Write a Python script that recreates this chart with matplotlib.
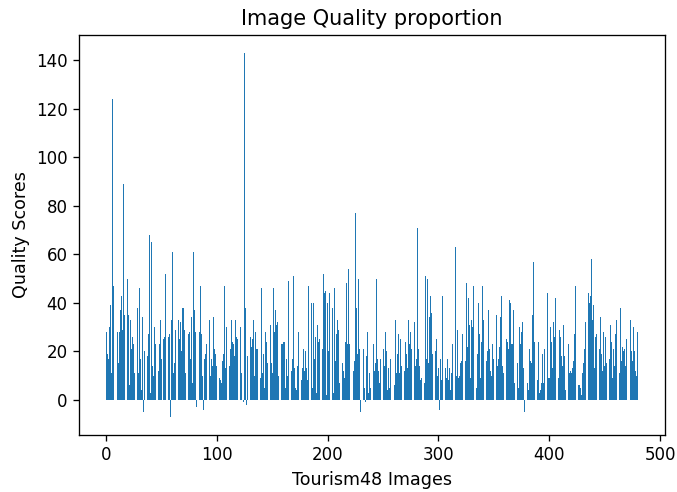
import matplotlib
matplotlib.use("Agg")
import matplotlib.pyplot as plt
import numpy as np

seg1 = [28, 19, 17, 30, 39, 11, 124, 47, 30, 25, 28, 15, 28, 37, 43, 29, 89, 35, 25, 50,
        35, 6, 33, 21, 26, 23, 11, 20, 38, 11, 46, 17, 4, 34, -5, 20, 43, 18, 27, 68,
        3, 65, 14, 10, 30, 23, 31, 12, 23, 33, 17, 0, 25, 26, 52, 63, 26, 27, -7]
seg2 = [33, 61, 11, 15, 29, 15, 33, 25, 32, 20, 38, 38, 29, 11, 14, 27, 28, 17, 34, 7,
        61, 37, 28, -3, 17, 28, 47, 27, 10, -4, 17, 19, 23, 62, 33, 10, 17, 14, 34, 21,
        19, 14, 8, 9, 8, 7, 16, 19, 47, 13, 30, 10, 14, 21, 33, 24, 23, 18, 33, 26, 25]
seg3 = [1, 30, 11, 0, -1, 143, 38, -2, 18, 12, 26, 22, 25, 33, 10, 28, 21, 21, 31, 9,
        46, 11, 19, 5, 28, 24, 15, 37, 31, 15, 11, 46, 28, 37, 31, 32, 10, 38, 23, 23,
        24, 24, 5, 17, 10, 49, 6, 12, 17, 51, 13, 5, 4, 14, 28, 31, 8, 13, 21, 12, 20, 13, 8]
seg4 = [47, 38, 40, 5, 40, 17, 26, 3, 31, 24, 25, 43, 21, 52, 44, 45, 2, 40, 20, 44,
        35, 38, 3, 46, 16, 27, 33, 29, 7, 12, 15, 12, 9, 24, 48, 23, 54, 23, 52, 9,
        12, 16, 77, 38, 19, 50, 21, -5, 8, 21, 5, -1, 18, 28, 3, 11, 5, 16, 23, 12, 15]
seg5 = [50, 17, 12, 7, 17, 47, 21, 14, 28, 20, 4, 13, 5, 17, 36, 27, 6, 33, 11, 19,
        27, 11, 25, 14, 11, 12, 24, 19, 13, 33, 23, 28, 21, 19, 32, 14, 17, 71, 21, 14,
        8, 9, 19, 7, 51, 17, 50, 15, 34, 43, 36, 19, 33, 20, 25, 10, 13, -4, 17, 8]
seg6 = [43, 25, 13, 9, 17, 8, 13, 4, 11, 23, 10, 63, 10, 29, 9, 10, 15, 16, 27, 20,
        16, 48, 22, 42, 31, 9, 33, 30, 47, 26, 5, 19, 40, 27, 9, 24, 47, 33, 24, 16,
        20, 37, 21, 12, 10, 23, 17, 16, 35, 14, 17, 22, 34, 43, 14, 11, 26, 25, 24, 21, 41, 40]
seg7 = [23, 23, 37, 7, 19, 15, 5, 30, 23, 28, 32, 13, -5, 24, 7, 4, 21, 16, 15, 35,
        57, 24, 16, 8, 24, 3, 4, 7, 19, 7, 21, 10, 44, 9, 9, 30, 24, 13, 32, 26,
        42, 12, 9, 29, 26, 18, 14, 31, 18, 4, 78, 23, 11, 12, 11, 13, 16, 27, 47, 26, 6]
seg8 = [6, 5, 2, 11, 15, 21, 32, 21, 44, 40, 43, 58, 33, 39, 13, 26, 27, 15, 21, 34,
        19, 12, 28, 14, 26, 15, 29, 17, 31, 24, 9, 21, 14, 27, 33, 10, 11, 38, 16, 22,
        20, 21, 14, 25, 25, 25, 33, 20, 16, 30, 20, 12, 10, 28]

scores = seg1 + seg2 + seg3 + seg4 + seg5 + seg6 + seg7 + seg8
images = list(range(len(scores)))

title = "Image Quality proportion"
xlabel = "Tourism48 Images"
ylabel = "Quality Scores"
xticks = [0, 100, 200, 300, 400, 500]
yticks = [0, 20, 40, 60, 80, 100, 120, 140]

plt.rcParams.update({
    "axes.linewidth": 0.95,
    "xtick.major.size": 4.1, "ytick.major.size": 4.1,
    "xtick.major.width": 0.95, "ytick.major.width": 0.95,
    "xtick.major.pad": 4.1, "ytick.major.pad": 4.1,
})

fig = plt.figure(figsize=(6.77, 4.92), dpi=100)
ax = fig.add_axes([79/677, 1-435/492, (665-79)/677, (435-35)/492])
ax.bar(images, scores, color="#1f77b4")
ax.set_title(title, fontsize=15, pad=7)
ax.set_xlabel(xlabel, fontsize=12.6, labelpad=4.5)
ax.set_ylabel(ylabel, fontsize=12.6, labelpad=4.5)
ax.tick_params(labelsize=12)
ax.set_xticks(xticks)
ax.set_yticks(yticks)
fig.savefig("out.png", dpi=100)
